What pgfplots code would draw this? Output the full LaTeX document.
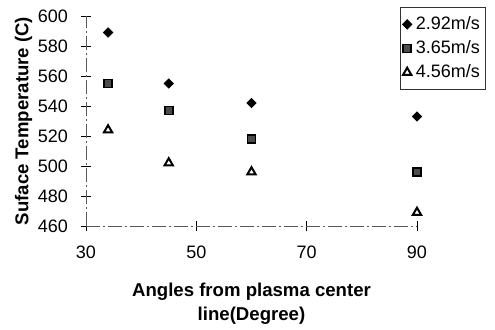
\documentclass[border=0pt]{standalone}
\usepackage{pgfplots}
\pgfplotsset{compat=1.18}
\usepackage{fontspec}
\setmainfont{Liberation Sans}
\begin{document}
\begin{tikzpicture}
\path[use as bounding box] (-43pt,-51.5pt) rectangle (204.5pt,113pt);
\begin{axis}[
  scale only axis,
  width=165.5pt, height=105pt,
  xmin=30, xmax=90, ymin=460, ymax=600,
  xtick={30,50,70,90}, ytick={460,480,...,600},
  axis lines=left,
  axis line style={-, black!65, dash pattern=on 7pt off 1.5pt on 1pt off 1.5pt},
  tick align=center,
  major tick length=5pt,
  tick style={black, thin},
  font=\fontsize{9}{11}\selectfont,
  /pgf/number format/assume math mode=true,
  xticklabel style={yshift=-4pt},
  yticklabel style={xshift=-3pt},
  xlabel={Angles from plasma center\\line(Degree)},
  xlabel style={align=center, yshift=-5pt, font=\fontsize{9.3}{12}\selectfont\bfseries},
  ylabel={Suface Temperature (C)},
  ylabel style={yshift=-4pt, font=\fontsize{9.3}{11}\selectfont\bfseries},
  legend style={at={(axis description cs:0.949,1.043)}, anchor=north west,
    draw=black!80, thin, font=\fontsize{9}{11}\selectfont,
    inner xsep=1pt, inner ysep=2.5pt, row sep=0pt},
  legend cell align=left,
]
\addplot[only marks, mark=square*, mark size=1.65pt, mark options={rotate=45, fill=black, draw=black}]
  coordinates {(34,589) (45,555) (60,542) (90,533)};
\addlegendentry{2.92m/s}
\addplot[only marks, mark=square*, mark size=2pt, mark options={fill=black!70, draw=black, line width=0.9pt}]
  coordinates {(34,555) (45,537) (60,518) (90,496)};
\addlegendentry{3.65m/s}
\addplot[only marks, mark=triangle, mark size=2.4pt, mark options={draw=black, line width=1pt}]
  coordinates {(34,524) (45,502) (60,496) (90,469)};
\addlegendentry{4.56m/s}
\end{axis}
\end{tikzpicture}
\end{document}
